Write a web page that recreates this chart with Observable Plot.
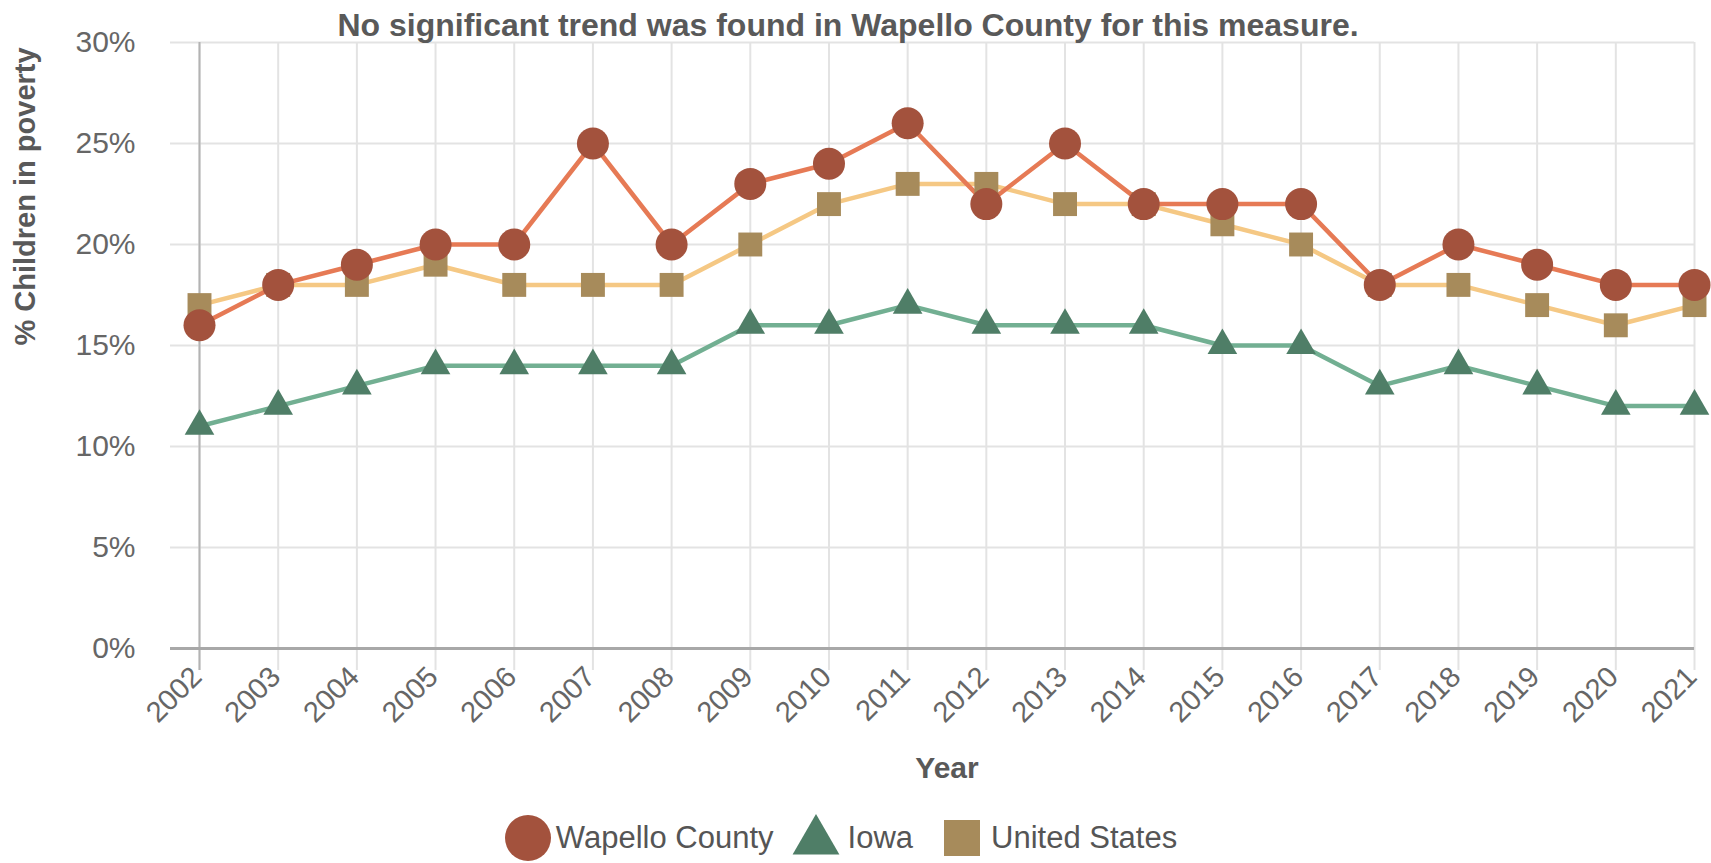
<!DOCTYPE html>
<html><head><meta charset="utf-8">
<script src="https://cdn.jsdelivr.net/npm/d3@7"></script>
<script src="https://cdn.jsdelivr.net/npm/@observablehq/plot@0.6"></script>
<style>
body{margin:0;background:#fff;font-family:"Liberation Sans",Arial,sans-serif;overflow:hidden;}
#legend{display:flex;justify-content:center;align-items:center;font-size:31px;color:#555;height:56px;padding-top:10px;margin-left:-30px;}
#legend .item{display:flex;align-items:center;}
</style></head><body><div id="chart"></div><div id="legend"></div>
<script>
const years = [2002,2003,2004,2005,2006,2007,2008,2009,2010,2011,2012,2013,2014,2015,2016,2017,2018,2019,2020,2021];
const wapello = [16,18,19,20,20,25,20,23,24,26,22,25,22,22,22,18,20,19,18,18];
const iowa = [11,12,13,14,14,14,14,16,16,17,16,16,16,15,15,13,14,13,12,12];
const unitedStates = [17,18,18,19,18,18,18,20,22,23,23,22,22,21,20,18,18,17,16,17];
const yTicks = [0,5,10,15,20,25,30];
const seriesNames = ["Wapello County","Iowa","United States"];
const lineColors = ["#e67a55","#72af92","#f5c884"];
const markerColors = ["#a3523d","#4f7e67","#a78b5b"];
const symbols = ["circle","triangle","square"];
const radii = [16,11,13.5];
const titleText = "No significant trend was found in Wapello County for this measure.";
const yLabel = "% Children in poverty";
const xLabel = "Year";

const tables = [wapello, iowa, unitedStates].map((vals, s) => years.map((y, i) => ({year: y, value: vals[i], series: seriesNames[s]})));
const drawOrder = [1, 2, 0];

const W = 1711, H = 800;
const chart = Plot.plot({
  width: W, height: H,
  marginLeft: 199, marginRight: 17, marginTop: 42, marginBottom: 152,
  x: {domain: [2002, 2021], axis: null},
  y: {domain: [0, 30], axis: null},
  style: {fontFamily: '"Liberation Sans", Arial, sans-serif', background: "#fff"},
  marks: [
    Plot.ruleY(yTicks, {y: d => d, stroke: "#e3e3e3", strokeWidth: 2, insetLeft: -29}),
    Plot.ruleX(years, {x: d => d, stroke: "#e3e3e3", strokeWidth: 2, insetBottom: -22}),
    Plot.ruleX([years[0]], {x: d => d, stroke: "#b3b3b3", strokeWidth: 2, insetBottom: -22}),
    Plot.ruleY([0], {y: d => d, stroke: "#a8a8a8", strokeWidth: 3, insetLeft: -29}),
    ...drawOrder.map(s => Plot.line(tables[s], {x: "year", y: "value", stroke: lineColors[s], strokeWidth: 4.5})),
    ...drawOrder.map(s => Plot.dot(tables[s], {x: "year", y: "value", symbol: symbols[s], r: radii[s], fill: markerColors[s], stroke: "none"})),
    Plot.text(yTicks, {y: d => d, text: d => d + "%", frameAnchor: "left", textAnchor: "end", dx: -64, fontSize: 30, fill: "#666"}),
    Plot.text(years, {x: d => d, text: d => String(d), frameAnchor: "bottom", textAnchor: "end", rotate: -45, dx: 4, dy: 30, fontSize: 29, fill: "#666"}),
    Plot.text([xLabel], {text: d => d, frameAnchor: "bottom", dy: 129, fontSize: 30, fontWeight: "bold", fill: "#595959"}),
    Plot.text([yLabel], {text: d => d, frameAnchor: "left", rotate: -90, dx: -174, fontSize: 29, fontWeight: "bold", fill: "#595959"}),
    Plot.text([titleText], {text: d => d, frameAnchor: "top", dx: -99, dy: -29, fontSize: 32, fontWeight: "bold", fill: "#595959"})
  ]
});
document.getElementById("chart").appendChild(chart);

const legend = d3.select("#legend");
const legendSymbols = [
  {sym: d3.symbolCircle, box: 48, area: Math.PI * 23 * 23, ml: 0, mr: 4, dy: 0},
  {sym: d3.symbolTriangle, box: 48, area: 48 * 48 * Math.sqrt(3) / 4 * 0.95, ml: 18, mr: 8, dy: 3},
  {sym: d3.symbolSquare, box: 38, area: 36 * 36, ml: 30, mr: 10, dy: 0}
];
seriesNames.forEach((name, s) => {
  const o = legendSymbols[s];
  const item = legend.append("div").attr("class", "item");
  const svg = item.append("svg").attr("width", o.box).attr("height", 50)
    .style("margin-left", o.ml + "px").style("margin-right", o.mr + "px");
  svg.append("path").attr("transform", `translate(${o.box/2},${25 + o.dy})`).attr("d", d3.symbol(o.sym, o.area)()).attr("fill", markerColors[s]);
  item.append("span").text(name);
});
</script>
</body></html>
